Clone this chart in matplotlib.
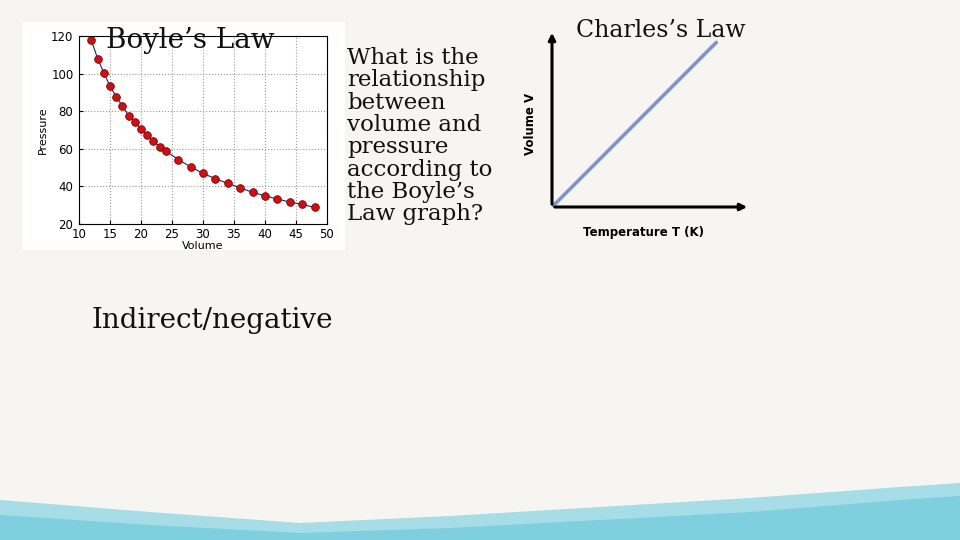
import numpy as np
import matplotlib.pyplot as plt
from matplotlib.patches import Rectangle, Polygon

# Boyle's law data
volume = [12, 13, 14, 15, 16, 17, 18, 19, 20, 21, 22, 23, 24, 26, 28, 30, 32, 34, 36, 38, 40, 42, 44, 46, 48]
pressure = [117.7, 108.0, 100.5, 93.3, 87.8, 82.7, 77.7, 74.2, 70.6, 67.1, 63.9, 61.1, 58.8,
            54.3, 50.4, 46.9, 44.1, 41.6, 39.3, 36.8, 35.0, 33.3, 31.7, 30.4, 28.8]
x_ticks = [10, 15, 20, 25, 30, 35, 40, 45, 50]
y_ticks = [20, 40, 60, 80, 100, 120]

# Charles's law line (start and end of the sketch)
temperature = [0, 83]
charles_volume = [0, 93]

question = ("What is the\nrelationship\nbetween\nvolume and\npressure\n"
            "according to\nthe Boyle\u2019s\nLaw graph?")

W, H = 960, 540
fig = plt.figure(figsize=(9.6, 5.4), dpi=100)
fig.patch.set_facecolor('#f7f5f1')

def fx(px):
    return px / W

def fy(py):
    return 1 - py / H

# watercolor band at the bottom
band_x = [0, 150, 300, 450, 600, 750, 900, 960, 960, 0]
band_y = [500, 512, 523, 516, 507, 498, 487, 483, 540, 540]
fig.patches.append(Polygon([(fx(a), fy(b)) for a, b in zip(band_x, band_y)],
                           closed=True, transform=fig.transFigure,
                           facecolor='#a6dde6', edgecolor='none', zorder=-2))
band_y2 = [515, 525, 533, 528, 520, 512, 500, 496, 540, 540]
fig.patches.append(Polygon([(fx(a), fy(b)) for a, b in zip(band_x, band_y2)],
                           closed=True, transform=fig.transFigure,
                           facecolor='#7fd0de', edgecolor='none', zorder=-2))

# white picture background of the Boyle graph
fig.patches.append(Rectangle((fx(22), fy(250)), fx(345 - 22), (250 - 22) / H,
                             transform=fig.transFigure, facecolor='white',
                             edgecolor='none', zorder=-2))

# Boyle's law plot
ax = fig.add_axes([fx(79), fy(224), fx(327 - 79), (224 - 36) / H])
ax.plot(volume, pressure, '-', color='#1a237e', lw=0.8)
ax.plot(volume, pressure, 'o', color='#d01010', mec='#7a0000', mew=0.6, ms=5.5)
ax.set_xlim(10, 50)
ax.set_ylim(20, 120)
ax.set_xticks(x_ticks)
ax.set_yticks(y_ticks)
ax.grid(True, ls=':', color='#999999', lw=0.8)
ax.tick_params(direction='in', labelsize=8.5, length=3)
ax.tick_params(axis='x', pad=3)
ax.tick_params(axis='y', pad=4)
ax.set_xlabel('Volume', fontsize=8, labelpad=0)
ax.set_ylabel('Pressure', fontsize=8, labelpad=2)
for s in ax.spines.values():
    s.set_linewidth(0.8)

fig.text(fx(190), fy(40), 'Boyle\u2019s Law', family='DejaVu Serif', fontsize=20,
         ha='center', va='center', color='#111111')

fig.text(fx(347), fy(47), question, family='DejaVu Serif', fontsize=16.5,
         ha='left', va='top', linespacing=1.02, color='#111111')

fig.text(fx(212), fy(320), 'Indirect/negative', family='DejaVu Serif', fontsize=20,
         ha='center', va='center', color='#111111')

fig.text(fx(661), fy(31), 'Charles\u2019s Law', family='DejaVu Serif', fontsize=17,
         ha='center', va='center', color='#111111')

# Charles's law sketch
ax2 = fig.add_axes([fx(552), fy(207), fx(750 - 552), (207 - 30) / H])
ax2.patch.set_alpha(0)
ax2.set_xlim(0, 100)
ax2.set_ylim(0, 100)
ax2.plot(temperature, charles_volume, color='#7f95c8', lw=2.6, solid_capstyle='round')
for s in ax2.spines.values():
    s.set_visible(False)
ax2.set_xticks([])
ax2.set_yticks([])
ax2.annotate('', xy=(1.0, 0), xytext=(0, 0), xycoords='axes fraction',
             arrowprops=dict(arrowstyle='-|>', color='black', lw=2.2, mutation_scale=10))
ax2.annotate('', xy=(0, 1.0), xytext=(0, 0), xycoords='axes fraction',
             arrowprops=dict(arrowstyle='-|>', color='black', lw=2.2, mutation_scale=10))
ax2.set_xlabel('Temperature T (K)', fontsize=8.5, fontweight='bold', labelpad=9)
ax2.set_ylabel('Volume V', fontsize=8.5, fontweight='bold', labelpad=10)
ax2.xaxis.set_label_coords(0.46, -0.105)
ax2.yaxis.set_label_coords(-0.075, 0.47)

fig.savefig('out.png', dpi=100, facecolor=fig.get_facecolor())
